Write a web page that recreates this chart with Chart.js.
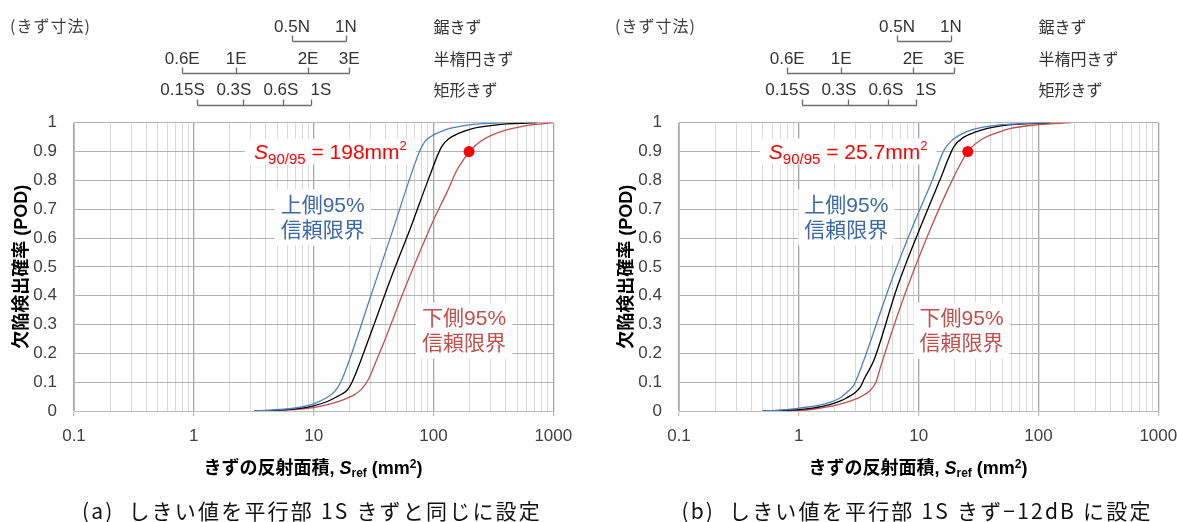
<!DOCTYPE html>
<html>
<head>
<meta charset="utf-8">
<script src="https://cdn.jsdelivr.net/npm/chart.js@4.4.1/dist/chart.umd.min.js"></script>
<style>
  html, body { margin: 0; padding: 0; background: #fff; }
  body { width: 1177px; height: 522px; overflow: hidden; position: relative; }
  .cv { position: absolute; top: 0; }
  .xtitle { position: absolute; top: 457px; width: 400px; text-align: center; white-space: nowrap;
            font-family: "Liberation Sans", "Noto Sans CJK JP", sans-serif; font-weight: bold; font-size: 18px; line-height: 22px; color: #000; }
  .xtitle sub { font-size: 12px; vertical-align: -3px; line-height: 0; }
  .xtitle sup { font-size: 12px; vertical-align: 6px; line-height: 0; }
  .caption { position: absolute; top: 498px; width: 600px; text-align: center; white-space: pre;
             font-family: "Noto Sans CJK JP", sans-serif; font-size: 21px; line-height: 24px; color: #111; letter-spacing: 2.2px; }
</style>
</head>
<body>
<canvas id="chartA" class="cv" width="600" height="522" style="left:0px"></canvas>
<canvas id="chartB" class="cv" width="600" height="522" style="left:605px"></canvas>
<div class="xtitle" style="left:113px">きずの反射面積, <i>S</i><sub>ref</sub> (mm<sup>2</sup>)</div>
<div class="xtitle" style="left:718px">きずの反射面積, <i>S</i><sub>ref</sub> (mm<sup>2</sup>)</div>
<div class="caption" id="capA" style="left:12px"></div>
<div class="caption" id="capB" style="left:617px"></div>
<script>
// ---------------- data ----------------
const xTickLabels = ['0.1', '1', '10', '100', '1000'];
const yTickLabels = ['0', '0.1', '0.2', '0.3', '0.4', '0.5', '0.6', '0.7', '0.8', '0.9', '1'];

// flaw-size reference scale (positions in mm² on the x axis)
const flawTypeNames = ['鋸きず', '半楕円きず', '矩形きず'];
const sawLabels = ['0.5N', '1N'];
const sawValues = [6.6, 18.6];
const ellipseLabels = ['0.6E', '1E', '2E', '3E'];
const ellipseValues = [0.80, 2.26, 8.98, 19.8];
const rectLabels = ['0.15S', '0.3S', '0.6S', '1S'];
const rectValues = [1.07, 2.56, 5.56, 9.57];
const rectLabelValues = [0.805, 2.16, 5.33, 11.5];
const flawNameValue = 100;

// panel (a)
const aUpperX = [3.2, 5.6, 7.7, 10, 12.9, 15, 16.8, 20, 30, 46, 65, 77.4, 85, 95, 110, 130, 170, 215, 300, 400];
const aUpperY = [0, 0.006, 0.013, 0.025, 0.047, 0.068, 0.1, 0.18, 0.40, 0.63, 0.82, 0.905, 0.935, 0.952, 0.966, 0.978, 0.988, 0.994, 0.998, 1];
const aMeanX = [3.2, 5.6, 7.7, 10, 13, 16, 19, 20.9, 30, 45, 65, 90, 117, 135, 160, 215, 300, 407, 730];
const aMeanY = [0, 0.004, 0.009, 0.018, 0.033, 0.052, 0.072, 0.1, 0.27, 0.47, 0.64, 0.80, 0.917, 0.945, 0.962, 0.98, 0.99, 0.996, 1];
const aLowerX = [3.2, 5.6, 7.7, 10, 13, 16.7, 21.5, 25, 28.7, 33, 38.3, 60, 100, 130, 157, 180, 200, 225, 245, 300, 407, 550, 680, 1000];
const aLowerY = [0, 0.003, 0.007, 0.012, 0.022, 0.035, 0.055, 0.075, 0.11, 0.17, 0.235, 0.443, 0.662, 0.76, 0.836, 0.875, 0.9, 0.922, 0.934, 0.955, 0.975, 0.987, 0.993, 1];
const aS9095 = 198;

// panel (b)
const bUpperX = [0.5, 0.7, 1, 1.3, 1.73, 2.2, 2.6, 2.88, 3.1, 3.73, 5.83, 9.14, 13, 16.3, 19.1, 24, 30.9, 42, 58.6, 80, 110];
const bUpperY = [0, 0.003, 0.01, 0.016, 0.027, 0.045, 0.07, 0.09, 0.12, 0.21, 0.443, 0.651, 0.80, 0.905, 0.94, 0.965, 0.98, 0.99, 0.995, 0.998, 1];
const bMeanX = [0.5, 0.7, 1, 1.3, 1.73, 2.5, 3.27, 3.5, 4.24, 6.64, 10.4, 15, 19.7, 23.9, 30, 37.5, 50, 71, 126];
const bMeanY = [0, 0.002, 0.005, 0.01, 0.02, 0.045, 0.084, 0.11, 0.177, 0.431, 0.64, 0.80, 0.917, 0.95, 0.968, 0.98, 0.99, 0.995, 1];
const bLowerX = [0.5, 0.7, 1, 1.3, 1.73, 2.5, 3.3, 3.98, 4.4, 4.82, 7.54, 11.8, 19.7, 25.7, 33, 45, 58.6, 100, 186];
const bLowerY = [0, 0.001, 0.002, 0.006, 0.014, 0.03, 0.05, 0.073, 0.1, 0.154, 0.396, 0.605, 0.813, 0.9, 0.94, 0.965, 0.98, 0.993, 1];
const bS9095 = 25.7;

const captionA = '(a)  しきい値を平行部 1S きずと同じに設定';
const captionB = '(b)  しきい値を平行部 1S きず−12dB に設定';

// ---------------- styling ----------------
const BLUE = '#4f81bd';
const RED = '#c0504d';
const BLUE_TEXT = '#3c68a5';
const LATIN = '"Liberation Sans", "Noto Sans CJK JP", sans-serif';

document.getElementById('capA').textContent = captionA;
document.getElementById('capB').textContent = captionB;

function zip(xs, ys) { return xs.map((x, i) => ({ x: x, y: ys[i] })); }
function isDecade(v) { const l = Math.log10(v); return Math.abs(l - Math.round(l)) < 1e-6; }

// annotation plugin: boxed text anchored at data coordinates
const annoPlugin = {
  id: 'annoText',
  beforeDatasetsDraw(chart, args, opts) {
    const { ctx, scales } = chart;
    const xs = scales.x, ys = scales.y;
    ctx.save();
    (opts.items || []).forEach(item => {
      const cx = xs.getPixelForValue(item.x);
      const cy = ys.getPixelForValue(item.y);
      const lh = item.lineHeight;
      const widths = item.lines.map(runs => runs.reduce((w, r) => { ctx.font = r.font; return w + ctx.measureText(r.t).width; }, 0));
      const w = Math.max(...widths);
      const h = item.lines.length * lh;
      ctx.fillStyle = '#ffffff';
      ctx.fillRect(cx - w / 2 - item.padX, cy - h / 2 - item.padY, w + 2 * item.padX, h + 2 * item.padY);
      ctx.fillStyle = item.color;
      ctx.textAlign = 'left';
      ctx.textBaseline = 'alphabetic';
      item.lines.forEach((runs, i) => {
        let px = cx - widths[i] / 2;
        const base = cy - h / 2 + i * lh + lh * item.baseFrac;
        runs.forEach(r => {
          ctx.font = r.font;
          ctx.fillText(r.t, px, base + (r.dy || 0));
          px += ctx.measureText(r.t).width;
        });
      });
    });
    ctx.restore();
  }
};

// flaw-size scale plugin (brackets drawn above the plot, on the x scale)
const sizeScalePlugin = {
  id: 'sizeScale',
  afterDraw(chart, args, opts) {
    const { ctx } = chart;
    const xs = chart.scales.x;
    ctx.save();
    ctx.fillStyle = '#404040';
    ctx.font = '16px "Noto Sans CJK JP", sans-serif';
    ctx.textAlign = 'left';
    ctx.textBaseline = 'middle';
    if ('letterSpacing' in ctx) ctx.letterSpacing = '1px';
    ctx.fillText('(きず寸法)', 10, opts.rows[0].textY - 1);
    if ('letterSpacing' in ctx) ctx.letterSpacing = '0px';
    opts.rows.forEach(row => {
      const px = row.values.map(v => Math.round(xs.getPixelForValue(v)) + 0.5);
      ctx.strokeStyle = '#6d6d6d';
      ctx.lineWidth = 1.3;
      ctx.beginPath();
      ctx.moveTo(px[0], row.lineY);
      ctx.lineTo(px[px.length - 1], row.lineY);
      px.forEach(p => { ctx.moveTo(p, row.lineY); ctx.lineTo(p, row.lineY - 6); });
      ctx.stroke();
      ctx.fillStyle = '#333333';
      ctx.font = '17px "Liberation Sans", sans-serif';
      ctx.textAlign = 'center';
      row.labels.forEach((t, i) => ctx.fillText(t, xs.getPixelForValue(row.labelValues[i]), row.textY));
      ctx.font = '16px "Noto Sans CJK JP", sans-serif';
      ctx.textAlign = 'left';
      ctx.fillText(row.name, xs.getPixelForValue(flawNameValue), row.textY);
    });
    ctx.restore();
  }
};

function makeChart(id, d) {
  const s = d.s9095;
  return new Chart(document.getElementById(id), {
    type: 'line',
    data: {
      datasets: [
        { label: 'S90/95', data: [{ x: s, y: 0.9 }], showLine: false, pointRadius: 5.5, pointBackgroundColor: '#ff0000', pointBorderColor: '#ff0000', pointBorderWidth: 0 },
        { label: '上側95%信頼限界', data: zip(d.ux, d.uy), borderColor: BLUE, borderWidth: 1.3, pointRadius: 0, cubicInterpolationMode: 'monotone', fill: false },
        { label: '平均', data: zip(d.mx, d.my), borderColor: '#000000', borderWidth: 1.3, pointRadius: 0, cubicInterpolationMode: 'monotone', fill: false },
        { label: '下側95%信頼限界', data: zip(d.lx, d.ly), borderColor: RED, borderWidth: 1.3, pointRadius: 0, cubicInterpolationMode: 'monotone', fill: false }
      ]
    },
    options: {
      responsive: false,
      animation: false,
      events: [],
      layout: { padding: { left: 0, right: 46.7, top: 122.7, bottom: 51 } },
      plugins: {
        legend: { display: false },
        tooltip: { enabled: false },
        annoText: {
          items: [
            { x: d.sLabelX, y: 0.9, color: '#ff0000', lineHeight: 26, baseFrac: 0.77, padX: 9, padY: 0,
              lines: [[
                { t: 'S', font: 'italic 21px ' + LATIN },
                { t: '90/95', font: '15px ' + LATIN, dy: 5 },
                { t: ' = ' + s + 'mm', font: '21px ' + LATIN },
                { t: '2', font: '13px ' + LATIN, dy: -9 }
              ]] },
            { x: d.upLabelX, y: 0.671, color: BLUE_TEXT, lineHeight: 25, baseFrac: 0.78, padX: 6, padY: 3,
              lines: [[{ t: '上側95%', font: '21px ' + LATIN }], [{ t: '信頼限界', font: '21px ' + LATIN }]] },
            { x: d.loLabelX, y: 0.2785, color: RED, lineHeight: 25, baseFrac: 0.78, padX: 6, padY: 3,
              lines: [[{ t: '下側95%', font: '21px ' + LATIN }], [{ t: '信頼限界', font: '21px ' + LATIN }]] }
          ]
        },
        sizeScale: {
          rows: [
            { name: flawTypeNames[0], labels: sawLabels, values: sawValues, labelValues: sawValues, textY: 27, lineY: 41.5 },
            { name: flawTypeNames[1], labels: ellipseLabels, values: ellipseValues, labelValues: ellipseValues, textY: 59, lineY: 73.5 },
            { name: flawTypeNames[2], labels: rectLabels, values: rectValues, labelValues: rectLabelValues, textY: 90, lineY: 105.5 }
          ]
        }
      },
      scales: {
        x: {
          type: 'logarithmic',
          min: 0.1,
          max: 1000,
          afterBuildTicks(scale) {
            const t = [];
            for (let k = -1; k <= 2; k++) {
              for (let m = 1; m <= 9; m++) t.push({ value: m * Math.pow(10, k) });
            }
            t.push({ value: 1000 });
            scale.ticks = t;
          },
          afterFit(scale) { scale.height = 60; },
          ticks: {
            autoSkip: false,
            maxRotation: 0,
            padding: 10,
            color: '#404040',
            font: { family: LATIN, size: 17 },
            callback(v) {
              if (!isDecade(v)) return '';
              return xTickLabels[Math.round(Math.log10(v)) + 1];
            }
          },
          grid: {
            drawTicks: true,
            tickLength: 5,
            color: c => (c.tick && isDecade(c.tick.value)) ? '#a6a6a6' : '#d9d9d9',
            lineWidth: c => (c.tick && isDecade(c.tick.value)) ? 1.3 : 1,
            tickColor: c => (c.tick && isDecade(c.tick.value)) ? '#bfbfbf' : 'rgba(0,0,0,0)'
          },
          border: { color: '#bfbfbf', width: 1 }
        },
        y: {
          min: 0,
          max: 1,
          afterFit(scale) { scale.width = 74; },
          ticks: {
            stepSize: 0.1,
            padding: 17,
            color: '#404040',
            font: { family: LATIN, size: 17 },
            callback(v, i) { return yTickLabels[i]; }
          },
          grid: { drawTicks: false, color: '#b3b3b3', lineWidth: 1 },
          border: { color: '#bfbfbf', width: 1 },
          title: {
            display: true,
            text: '欠陥検出確率 (POD)',
            color: '#000000',
            font: { family: LATIN, size: 18, weight: 'bold' },
            padding: { top: 11, bottom: 0 }
          }
        }
      }
    },
    plugins: [annoPlugin, sizeScalePlugin]
  });
}

makeChart('chartA', {
  ux: aUpperX, uy: aUpperY, mx: aMeanX, my: aMeanY, lx: aLowerX, ly: aLowerY, s9095: aS9095,
  sLabelX: 13.8, upLabelX: 11.9, loLabelX: 180
});
makeChart('chartB', {
  ux: bUpperX, uy: bUpperY, mx: bMeanX, my: bMeanY, lx: bLowerX, ly: bLowerY, s9095: bS9095,
  sLabelX: 2.58, upLabelX: 2.49, loLabelX: 22.8
});
</script>
</body>
</html>
